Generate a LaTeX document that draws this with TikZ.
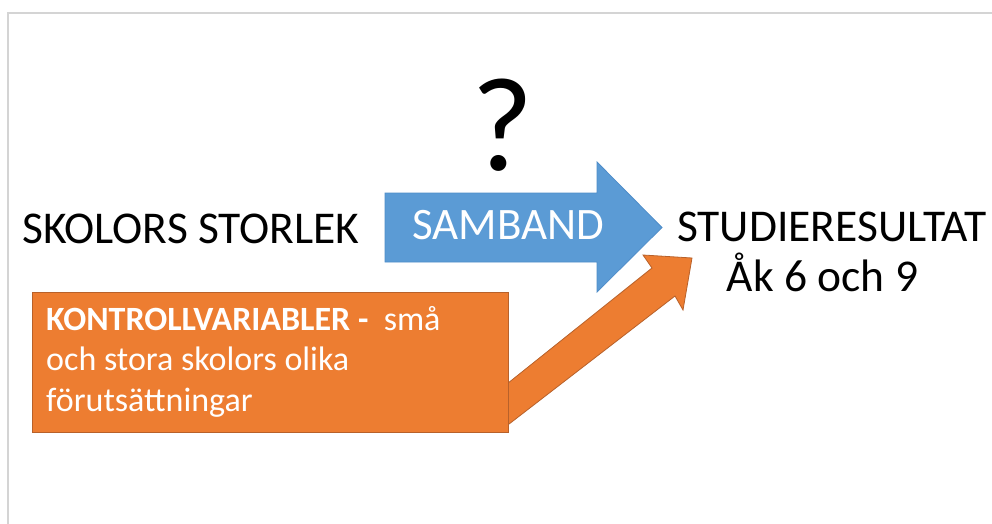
\documentclass[tikz,border=0pt]{standalone}
\usepackage{fontspec}
\setmainfont{Carlito}
\definecolor{blueA}{HTML}{5B9BD5}
\definecolor{blueB}{HTML}{4F8DC9}
\definecolor{orangeA}{HTML}{ED7D31}
\definecolor{orangeB}{HTML}{B8612A}
\definecolor{frameG}{HTML}{D4D4D4}
\begin{document}
\begin{tikzpicture}[x=1pt,y=-1pt,
  bigtxt/.style={inner sep=0pt, anchor=base west, font=\fontsize{45.5}{52}\selectfont},
  blockarrow/.style={line width=0.8pt, line join=miter}]
\useasboundingbox (0,0) rectangle (992,524);
\fill[white] (0,0) rectangle (992,524);
% frame
\draw[frameG, line width=2pt] (8,524) -- (8,13) -- (992,13);
% question mark
\node[inner sep=0pt, anchor=base, font=\fontsize{134}{140}\selectfont] (q) at (503,170) {?};
% left text
\node[bigtxt] (skol) at (22,243) {SKOLORS STORLEK};
% blue arrow
\draw[blockarrow, fill=blueA, draw=blueB] (385,193) -- (597,193) -- (597,162) -- (662,227.5) -- (597,292) -- (597,262) -- (385,262) -- cycle;
\node[inner sep=0pt, anchor=base west, text=white, font=\fontsize{45}{52}\selectfont] (samb) at (412,239) {SAMBAND};
% right text
\node[bigtxt] (stud) at (677,241) {STUDIERESULTAT};
\node[bigtxt, anchor=base] (ak) at (822.5,291) {Åk 6 och 9};
% orange arrow
\draw[blockarrow, fill=orangeA, draw=orangeB] (500,389.5) -- (652,268) -- (643,255) -- (692,258) -- (683,310) -- (675,296) -- (500,431) -- cycle;
% orange box
\node[draw=orangeB, fill=orangeA, line width=0.8pt, minimum width=476pt, minimum height=140pt, anchor=north west, inner sep=0pt] (box) at (32,292) {};
\node[inner sep=0pt, anchor=base west, text=white, align=left, font=\fontsize{34}{40.5}\selectfont] (ktxt) at (46,411) {\textbf{KONTROLLVARIABLER -}\ \ små\\och stora skolors olika\\förutsättningar};
\end{tikzpicture}
\end{document}
